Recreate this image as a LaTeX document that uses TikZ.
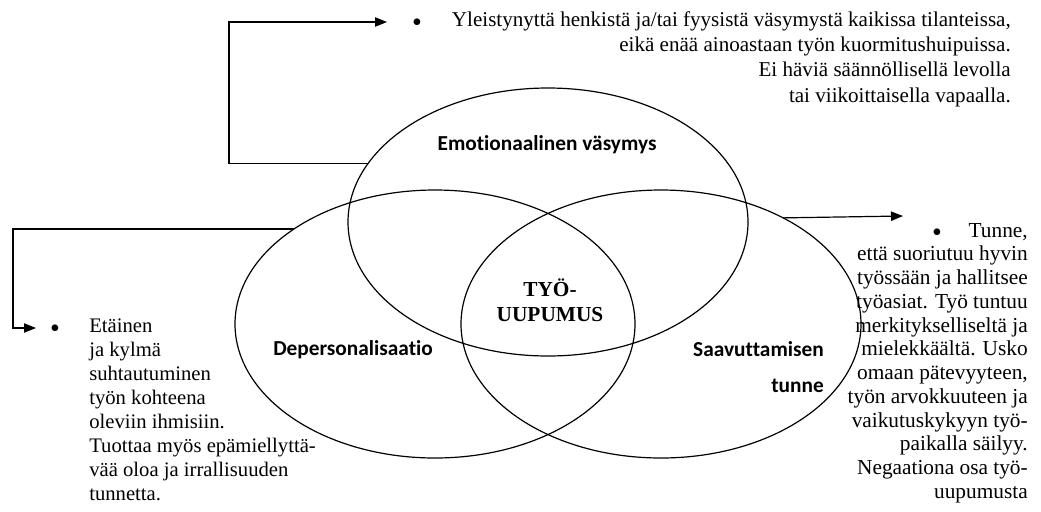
\documentclass[tikz,border=0pt]{standalone}
\usepackage{fontspec}
\setmainfont{Liberation Serif}
\newfontfamily\labelfont[Ligatures=NoCommon]{Carlito}
\usetikzlibrary{shapes.geometric, arrows.meta}
\tikzstyle{area} = [ellipse, draw=black, line width=0.9pt, minimum width=300pt, minimum height=201pt, inner sep=0pt, outer sep=0pt]
\tikzstyle{areaname} = [font=\labelfont\bfseries\fontsize{16}{27}\selectfont, inner sep=0pt]
\tikzstyle{desc} = [font=\fontsize{15.5}{18}\selectfont, inner sep=0pt]
\tikzstyle{dot} = [font=\fontsize{21}{21}\selectfont, inner sep=0pt]
\tikzstyle{arrow} = [line width=0.9pt, -{Triangle[length=9pt,width=7pt]}]

\begin{document}
\begin{tikzpicture}[x=0.75pt,y=-0.75pt]
\useasboundingbox (0,0) rectangle (1041,511);
%Areas
\node[area] (emo) at (548,222) {};
\node[area] (dep) at (435,324) {};
\node[area] (ach) at (661,324) {};
\node[areaname] (emoname) at (547,145) {Emotionaalinen väsymys};
\node[areaname, anchor=west] (depname) at (273,350) {Depersonalisaatio};
\node[areaname, align=right, anchor=east] (achname) at (824,367) {Saavuttamisen\\tunne};
\node[font=\bfseries\fontsize{16}{19}\selectfont, align=center, inner sep=0pt] (burnout) at (550,300) {TYÖ-\\UUPUMUS};

%Descriptions
\node[dot] (bulletemo) at (417,25) {\textbullet};
\node[desc, font=\fontsize{15.8}{19}\selectfont, align=right, anchor=north east] (emotext) at (1011,11) {Yleistynyttä henkistä ja/tai fyysistä väsymystä kaikissa tilanteissa,\\eikä enää ainoastaan työn kuormitushuipuissa.\\Ei häviä säännöllisellä levolla\\tai viikoittaisella vapaalla.};
\node[dot] (bulletdep) at (55,331) {\textbullet};
\node[desc, align=left, anchor=north west] (deptext) at (89,319) {Etäinen\\ja kylmä\\suhtautuminen\\työn kohteena\\oleviin ihmisiin.\\Tuottaa myös epämiellyttä-\\vää oloa ja irrallisuuden\\tunnetta.};
\node[desc, font=\fontsize{16}{17.8}\selectfont, align=right, anchor=north east] (achtext) at (1028,223) {\raisebox{-3pt}[0pt][0pt]{\fontsize{21}{21}\selectfont\textbullet}\hspace{20pt}Tunne,\\että suoriutuu hyvin\\työssään ja hallitsee\\työasiat. Työ tuntuu\\merkitykselliseltä ja\\mielekkäältä. Usko\\omaan pätevyyteen,\\työn arvokkuuteen ja\\vaikutuskykyyn työ-\\paikalla säilyy.\\Negaationa osa työ-\\uupumusta};

%Connectors
\coordinate (emocorner) at (229,22);
\coordinate (emotip) at (387,22);
\draw[arrow] (emo.162.5) -| (emocorner) -- (emotip);
\coordinate (depcorner) at (13,230);
\coordinate (deptip) at (36,328);
\draw[arrow] (dep.146.9) -| (depcorner) |- (deptip);
\coordinate (achtip) at (903,216);
\draw[arrow] (ach.41.7) -- (achtip);
\end{tikzpicture}
\end{document}
